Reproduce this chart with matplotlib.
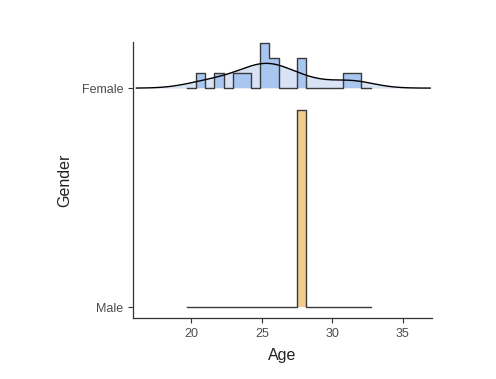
import matplotlib
matplotlib.use('Agg')
import matplotlib.pyplot as plt
import numpy as np

plt.rcParams['font.family'] = ['Liberation Sans', 'DejaVu Sans']

# ages (one value per person)
femaleAges = [20.65, 22.1, 23.4, 24.0, 25.1, 25.3, 25.45, 25.7, 26.0, 27.7, 28.0, 30.9, 31.74]
maleAges = [27.8]
groups = ['Male', 'Female']

# binline-style bins: 18 bins centred on min/max plus one empty pad bin each side
allAges = np.array(femaleAges + maleAges)
lo, hi = allAges.min(), allAges.max()
binWidth = (hi - lo) / 17
binEdges = lo - 1.5 * binWidth + binWidth * np.arange(21)


def binDensity(ages):
    counts, _ = np.histogram(ages, bins=binEdges)
    return counts / (counts.sum() * binWidth)


def kde(ages, grid, bw):
    ages = np.asarray(ages)
    dens = np.exp(-0.5 * ((grid[:, None] - ages[None, :]) / bw) ** 2).sum(axis=1)
    return dens / (len(ages) * bw * np.sqrt(2 * np.pi))


def stepLine(dens):
    xs = np.repeat(binEdges, 2)[1:-1]
    ys = np.repeat(dens, 2)
    return xs, ys


fDens = binDensity(femaleAges)
mDens = binDensity(maleAges)
scale = 0.9 / max(fDens.max(), mDens.max())

fig, ax = plt.subplots(figsize=(4.96, 3.79), dpi=100)
fig.subplots_adjust(left=0.2688, right=0.8704, top=0.89, bottom=0.161)

# Female density ridge (own scaling)
grid = np.linspace(16.1, 36.95, 400)
curve = kde(femaleAges, grid, 1.55)
curve = curve / curve.max() * 0.113
ax.fill_between(grid, 1, 1 + curve, color='#d8e3f6', zorder=1, lw=0)

xs, ys = stepLine(fDens)
ax.fill_between(xs, 1, 1 + ys * scale, color='#a8c6f0', zorder=2, lw=0)
ax.plot(xs, 1 + ys * scale, color='#3a3a3a', lw=1.0, zorder=3)
ax.plot(grid, 1 + curve, color='black', lw=1.0, zorder=4)

# Male histogram ridge
xs, ys = stepLine(mDens)
ax.fill_between(xs, 0, ys * scale, color='#f0cc8c', zorder=2, lw=0)
ax.plot(xs, ys * scale, color='#3a3a3a', lw=1.0, zorder=3)

ax.set_xlim(15.88, 37.06)
ax.set_ylim(-0.05, 1.212)
ax.set_xticks([20, 25, 30, 35])
ax.set_yticks([0, 1])
ax.set_yticklabels(groups)
ax.set_xlabel('Age', fontsize=11.5, color='#222222', labelpad=6)
ax.set_ylabel('Gender', fontsize=11.5, color='#222222', labelpad=7)
ax.tick_params(labelsize=9, colors='#333333', labelcolor='#4d4d4d', length=3.5, width=0.8)
for side in ['top', 'right']:
    ax.spines[side].set_visible(False)
for side in ['left', 'bottom']:
    ax.spines[side].set_color('#333333')
    ax.spines[side].set_linewidth(0.9)

plt.savefig('out.png', dpi=100)
